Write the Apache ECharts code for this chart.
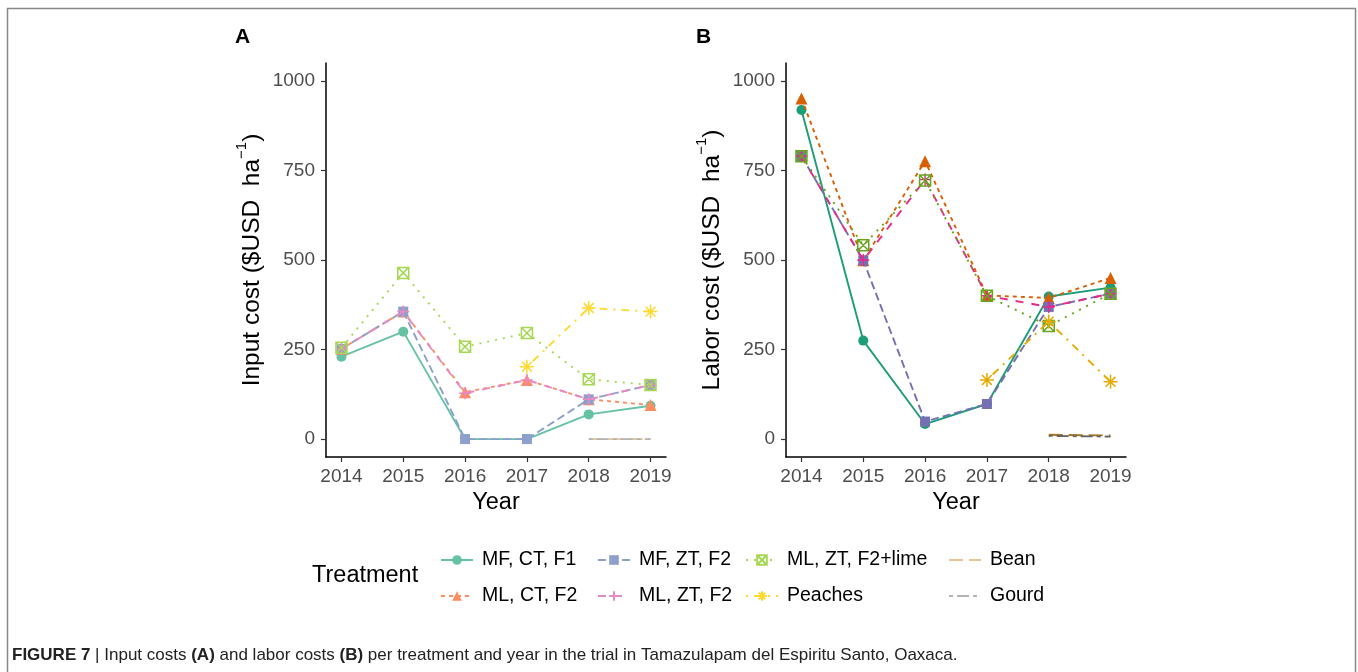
<!DOCTYPE html>
<html>
<head>
<meta charset="utf-8">
<script src="https://cdn.jsdelivr.net/npm/echarts@6/dist/echarts.min.js"></script>
<style>
html,body{margin:0;padding:0;background:#fff;}
#chart{width:1358px;height:672px;}
</style>
</head>
<body>
<div id="chart"></div>
<script>
// ---------------- data ----------------
const years = [2014, 2015, 2016, 2017, 2018, 2019];
const yTicks = [0, 250, 500, 750, 1000];
const treatments = ['MF, CT, F1', 'ML, CT, F2', 'MF, ZT, F2', 'ML, ZT, F2', 'ML, ZT, F2+lime', 'Peaches', 'Bean', 'Gourd'];

// Panel A: input cost ($USD/ha)
const inputMFCTF1   = [230, 300, 0, 0, 69, 93];
const inputMLCTF2   = [252, 356, 131, 165, 111, 95];
const inputMFZTF2   = [252, 356, 0, 0, 111, 151];
const inputMLZTF2   = [252, 356, 128, 165, 111, 151];
const inputMLZTLime = [255, 464, 258, 296, 167, 151];
const inputPeaches  = [null, null, null, 202, 366, 356];
const inputBean     = [null, null, null, null, 0, 0];
const inputGourd    = [null, null, null, null, 0, 0];

// Panel B: labor cost ($USD/ha)
const laborMFCTF1   = [919, 275, 42, 98, 398, 423];
const laborMLCTF2   = [951, 499, 776, 401, 394, 450];
const laborMFZTF2   = [790, 499, 49, 98, 369, 406];
const laborMLZTF2   = [790, 499, 725, 400, 369, 406];
const laborMLZTLime = [790, 541, 722, 400, 316, 406];
const laborPeaches  = [null, null, null, 165, 328, 160];
const laborBean     = [null, null, null, null, 12, 10];
const laborGourd    = [null, null, null, null, 9, 7];

const inputSeries = [inputMFCTF1, inputMLCTF2, inputMFZTF2, inputMLZTF2, inputMLZTLime, inputPeaches, inputBean, inputGourd];
const laborSeries = [laborMFCTF1, laborMLCTF2, laborMFZTF2, laborMLZTF2, laborMLZTLime, laborPeaches, laborBean, laborGourd];

// ---------------- styles ----------------
const colorsA = ['#66C2A5', '#FC8D62', '#8DA0CB', '#E78AC3', '#A6D854', '#FFD92F', '#E5C494', '#B3B3B3'];
const colorsB = ['#1B9E77', '#D95F02', '#7570B3', '#E7298A', '#66A61E', '#E6AB02', '#A6761D', '#666666'];
const dashes = ['solid', [4, 4], [8, 4], [8, 8], [2, 6], [2, 6, 8, 6], [14, 6], [4, 4, 12, 4]];
const plusPath = 'path://M5,0 L5,10 M0,5 L10,5';
const sqxPath = 'path://M0,0 L10,0 L10,10 L0,10 Z M0,0 L10,10 M10,0 L0,10';
const starPath = 'path://M5,0 L5,10 M0,5 L10,5 M1.5,1.5 L8.5,8.5 M8.5,1.5 L1.5,8.5';
const symbols = ['circle', 'triangle', 'rect', plusPath, sqxPath, starPath, 'none', 'none'];
const symSizes = [10, 12, 10, 12, 11, 14, 0, 0];
const openSym = [false, false, false, true, true, true, false, false];

const FONT = '"Liberation Sans", Arial, sans-serif';

function makeSeries(vals, k, gi, colors) {
  const c = colors[k];
  const data = [];
  years.forEach((y, i) => { if (vals[i] !== null) data.push([y, vals[i]]); });
  return {
    name: treatments[k],
    type: 'line',
    xAxisIndex: gi, yAxisIndex: gi,
    data: data,
    symbol: symbols[k],
    symbolSize: symSizes[k],
    showSymbol: symbols[k] !== 'none',
    lineStyle: { color: c, width: 1.9, type: dashes[k] },
    itemStyle: openSym[k]
      ? { color: 'rgba(0,0,0,0)', borderColor: c, borderWidth: 1.5 }
      : { color: c, borderWidth: 0 },
    emphasis: { disabled: true },
    animation: false,
    z: 2 + k * 0.01
  };
}

const series = [];
inputSeries.forEach((v, k) => series.push(makeSeries(v, k, 0, colorsA)));
laborSeries.forEach((v, k) => series.push(makeSeries(v, k, 1, colorsB)));

function xAxis(gi) {
  return {
    type: 'value', gridIndex: gi, min: 2013.75, max: 2019.25,
    splitLine: { show: false },
    axisLine: { show: true, onZero: false, lineStyle: { color: '#000', width: 1.5 } },
    axisTick: { show: true, customValues: years, length: 5, lineStyle: { color: '#333', width: 1.2 } },
    axisLabel: { customValues: years, fontSize: 19, color: '#4D4D4D', margin: 10, fontFamily: FONT, formatter: v => String(v) },
    name: 'Year', nameLocation: 'middle', nameGap: 34,
    nameTextStyle: { fontSize: 23.5, color: '#000', fontFamily: FONT }
  };
}
function yAxis(gi, title) {
  return {
    type: 'value', gridIndex: gi, min: -50, max: 1050,
    splitLine: { show: false },
    axisLine: { show: true, onZero: false, lineStyle: { color: '#000', width: 1.5 } },
    axisTick: { show: true, customValues: yTicks, length: 5, lineStyle: { color: '#333', width: 1.2 } },
    axisLabel: { customValues: yTicks, fontSize: 19, color: '#4D4D4D', margin: 11, fontFamily: FONT, formatter: v => String(v) },
    name: '{t|' + title + '}{s|−1}{t|)}', nameLocation: 'middle', nameGap: 61,
    nameTextStyle: {
      fontFamily: FONT, color: '#000',
      rich: {
        t: { fontSize: 24.5, color: '#000', fontFamily: FONT, lineHeight: 31, verticalAlign: 'bottom' },
        s: { fontSize: 15, color: '#000', fontFamily: FONT, lineHeight: 31, verticalAlign: 'top' }
      }
    }
  };
}

function legendCol(left, items) {
  return {
    orient: 'vertical', left: left, top: 545,
    data: items, itemWidth: 32, itemHeight: 12, itemGap: 16,
    selectedMode: false,
    textStyle: { fontSize: 19.5, color: '#000', fontFamily: FONT, padding: [0, 0, 0, 4] }
  };
}

const noSym = name => ({ name: name, itemStyle: { opacity: 0 } });

const option = {
  animation: false,
  grid: [
    { left: 326, top: 63, width: 340, height: 394, containLabel: false },
    { left: 786, top: 63, width: 340, height: 394, containLabel: false }
  ],
  xAxis: [xAxis(0), xAxis(1)],
  yAxis: [yAxis(0, 'Input cost ($USD  ha'), yAxis(1, 'Labor cost ($USD  ha')],
  legend: [
    legendCol(435, [treatments[0], treatments[1]]),
    legendCol(592, [treatments[2], treatments[3]]),
    legendCol(740, [treatments[4], treatments[5]]),
    legendCol(943, [noSym(treatments[6]), noSym(treatments[7])])
  ],
  series: series,
  graphic: [
    { type: 'rect', silent: true, shape: { x: 7.5, y: 8.5, width: 1348, height: 700 },
      style: { fill: 'none', stroke: '#888', lineWidth: 1.5 } },
    { type: 'text', left: 235, top: 27, style: { text: 'A', fontSize: 21, fontWeight: 'bold', fill: '#000', fontFamily: FONT } },
    { type: 'text', left: 696, top: 27, style: { text: 'B', fontSize: 21, fontWeight: 'bold', fill: '#000', fontFamily: FONT } },
    { type: 'text', left: 312, top: 564, style: { text: 'Treatment', fontSize: 23.5, fill: '#000', fontFamily: FONT } },
    { type: 'text', left: 12, top: 647, style: {
        text: '{b|FIGURE 7} | Input costs {b|(A)} and labor costs {b|(B)} per treatment and year in the trial in Tamazulapam del Espiritu Santo, Oaxaca.',
        fontSize: 17, fill: '#222', fontFamily: '"Liberation Sans Narrow", "Liberation Sans", Arial, sans-serif',
        rich: { b: { fontSize: 17, fontWeight: 'bold', fill: '#222', fontFamily: '"Liberation Sans Narrow", "Liberation Sans", Arial, sans-serif' } }
    } }
  ]
};

const chart = echarts.init(document.getElementById('chart'), null, { renderer: 'canvas' });
chart.setOption(option);
</script>
</body>
</html>
